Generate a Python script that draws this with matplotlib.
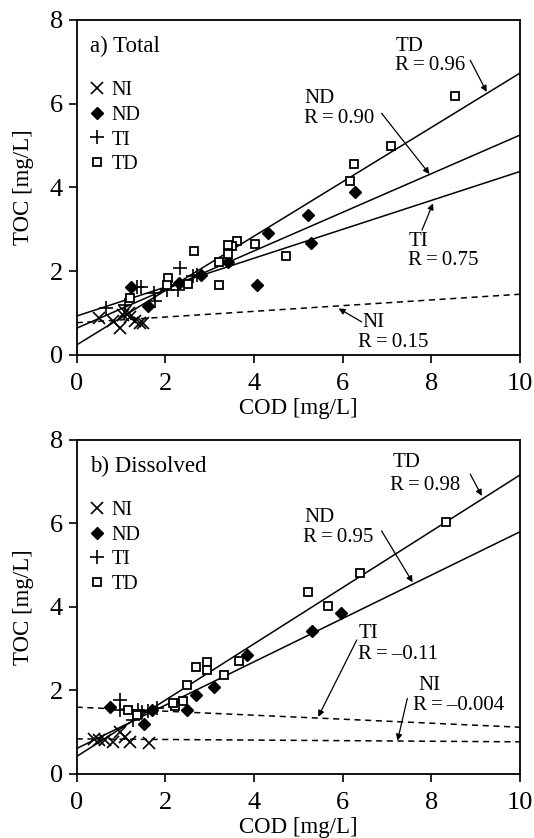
import numpy as np
import matplotlib
matplotlib.use("Agg")
import matplotlib.pyplot as plt

plt.rcParams['font.family'] = ['Liberation Serif', 'DejaVu Serif']

# ---- panel a) Total ----
a_ni_x = [0.51, 0.98, 1.05, 0.83, 1.32, 1.43, 1.50, 1.17, 1.20, 1.09]
a_ni_y = [0.88, 0.64, 0.96, 0.80, 0.80, 0.76, 0.76, 1.00, 0.90, 1.03]
a_nd_x = [6.28, 5.21, 5.28, 4.32, 4.06, 2.80, 3.42, 2.30, 1.23, 1.60]
a_nd_y = [3.89, 3.34, 2.68, 2.92, 1.66, 1.91, 2.23, 1.73, 1.63, 1.17]
a_ti_x = [2.33, 1.35, 1.45, 1.75, 1.77, 0.66, 2.29, 2.03, 2.71, 2.63, 1.10]
a_ti_y = [2.07, 1.63, 1.62, 1.47, 1.30, 1.11, 1.55, 1.55, 1.91, 1.88, 1.20]
a_td_x = [8.54, 7.09, 6.25, 6.16, 4.73, 4.03, 3.61, 3.51, 3.41, 3.42, 3.21,
          3.22, 2.64, 2.52, 2.07, 2.03, 1.20]
a_td_y = [6.19, 4.98, 4.55, 4.16, 2.37, 2.66, 2.73, 2.60, 2.41, 2.63, 2.22,
          1.67, 2.49, 1.69, 1.85, 1.66, 1.37]
# fitted lines: (intercept, slope)
a_fit = {'TD': (0.24, 0.649), 'ND': (0.64, 0.461), 'TI': (0.93, 0.345), 'NI': (0.77, 0.068)}

# ---- panel b) Dissolved ----
b_ni_x = [0.51, 0.64, 0.83, 0.98, 1.09, 1.20, 1.64, 0.38]
b_ni_y = [0.81, 0.81, 0.77, 1.01, 0.89, 0.77, 0.75, 0.83]
b_nd_x = [5.97, 5.32, 3.84, 3.10, 2.69, 2.50, 1.69, 1.52, 0.75]
b_nd_y = [3.85, 3.43, 2.84, 2.08, 1.90, 1.53, 1.53, 1.20, 1.61]
b_ti_x = [0.98, 0.98, 1.47, 1.62, 1.82, 1.28, 1.39]
b_ti_y = [1.77, 1.53, 1.49, 1.52, 1.57, 1.29, 1.53]
b_td_x = [8.33, 6.40, 5.67, 5.21, 3.66, 3.32, 2.93, 2.93, 2.69, 2.48, 2.41,
          2.22, 2.18, 1.35, 1.15]
b_td_y = [6.04, 4.82, 4.03, 4.37, 2.71, 2.38, 2.67, 2.49, 2.57, 2.12, 1.75,
          1.62, 1.70, 1.41, 1.53]
b_fit = {'TD': (0.42, 0.674), 'ND': (0.61, 0.519), 'TI': (1.60, -0.048), 'NI': (0.84, -0.007)}

a_labels = {'TD': 'R\u2009=\u20090.96', 'ND': 'R\u2009=\u20090.90',
            'TI': 'R\u2009=\u20090.75', 'NI': 'R\u2009=\u20090.15'}
b_labels = {'TD': 'R\u2009=\u20090.98', 'ND': 'R\u2009=\u20090.95',
            'TI': 'R\u2009=\u2009\u20130.11', 'NI': 'R\u2009=\u2009\u20130.004'}

# annotation layout: name pos, R pos, arrow start, arrow end (data coords)
a_notes = {'TD': ((7.52, 7.36), (7.97, 6.92), (8.88, 7.04), (9.25, 6.28)),
           'ND': ((5.48, 6.13), (5.91, 5.65), (6.88, 5.77), (7.96, 4.32)),
           'TI': ((7.71, 2.70), (8.28, 2.25), (7.79, 2.98), (8.04, 3.62)),
           'NI': ((6.70, 0.77), (7.15, 0.30), (6.43, 0.79), (5.91, 1.11))}
b_notes = {'TD': ((7.45, 7.46), (7.86, 6.92), (8.88, 7.18), (9.14, 6.66)),
           'ND': ((5.48, 6.14), (5.91, 5.67), (6.88, 5.82), (7.58, 4.59)),
           'TI': ((6.58, 3.37), (7.26, 2.87), (6.32, 3.21), (5.45, 1.37)),
           'NI': ((7.97, 2.13), (8.61, 1.65), (7.46, 1.81), (7.24, 0.80))}

fig = plt.figure(figsize=(5.34, 8.38), dpi=100)
ax_a = fig.add_axes([0.1436, 0.5764, 0.830, 0.3998])
ax_b = fig.add_axes([0.1436, 0.0764, 0.830, 0.3986])


def draw_panel(ax, title, ni, nd, ti, td, fit, labels, notes):
    xx = np.array([0.0, 10.0])
    for key in ['TD', 'ND', 'TI', 'NI']:
        b0, b1 = fit[key]
        dashed = key == 'NI' or (key == 'TI' and b1 < 0)
        ax.plot(xx, b0 + b1 * xx, color='k', lw=1.1,
                ls=(0, (4, 3)) if dashed else '-', zorder=2)

    ax.plot(ni[0], ni[1], ls='none', marker='x', ms=8, mew=1.2, color='k', label='NI', zorder=3)
    ax.plot(nd[0], nd[1], ls='none', marker='D', ms=6, color='k', label='ND', zorder=3)
    ax.plot(ti[0], ti[1], ls='none', marker='+', ms=10, mew=1.2, color='k', label='TI', zorder=3)
    ax.plot(td[0], td[1], ls='none', marker='s', ms=5.5, mew=1.3, mfc='white', mec='k',
            label='TD', zorder=4)

    for key, (p_name, p_r, a0, a1) in notes.items():
        ax.text(*p_name, key, ha='center', va='center', fontsize=15)
        ax.text(*p_r, labels[key], ha='center', va='center', fontsize=15)
        ax.annotate('', xy=a1, xytext=a0,
                    arrowprops=dict(arrowstyle='-|>', lw=0.9, color='k',
                                    mutation_scale=9, shrinkA=0, shrinkB=0))

    ax.text(0.03, 0.922, title, transform=ax.transAxes, fontsize=16.5,
            ha='left', va='center')
    ax.legend(loc='upper left', bbox_to_anchor=(-0.005, 0.86), frameon=False,
              fontsize=14.5, handlelength=0.8, handletextpad=0.35,
              labelspacing=0.28, borderaxespad=0.3)

    ax.set_xlim(0, 10)
    ax.set_ylim(0, 8)
    ax.set_xticks([0, 2, 4, 6, 8, 10])
    ax.set_yticks([0, 2, 4, 6, 8])
    ax.tick_params(direction='out', length=6, width=1.2, labelsize=19)
    ax.tick_params(axis='x', pad=7)
    ax.tick_params(axis='y', pad=4)
    for s in ax.spines.values():
        s.set_linewidth(1.3)
    ax.set_xlabel('COD [mg/L]', fontsize=16.5, labelpad=2)
    ax.set_ylabel('TOC [mg/L]', fontsize=16.5, labelpad=11)


draw_panel(ax_a, 'a) Total', (a_ni_x, a_ni_y), (a_nd_x, a_nd_y), (a_ti_x, a_ti_y),
           (a_td_x, a_td_y), a_fit, a_labels, a_notes)
draw_panel(ax_b, 'b) Dissolved', (b_ni_x, b_ni_y), (b_nd_x, b_nd_y), (b_ti_x, b_ti_y),
           (b_td_x, b_td_y), b_fit, b_labels, b_notes)

fig.savefig('out.png', dpi=100)
